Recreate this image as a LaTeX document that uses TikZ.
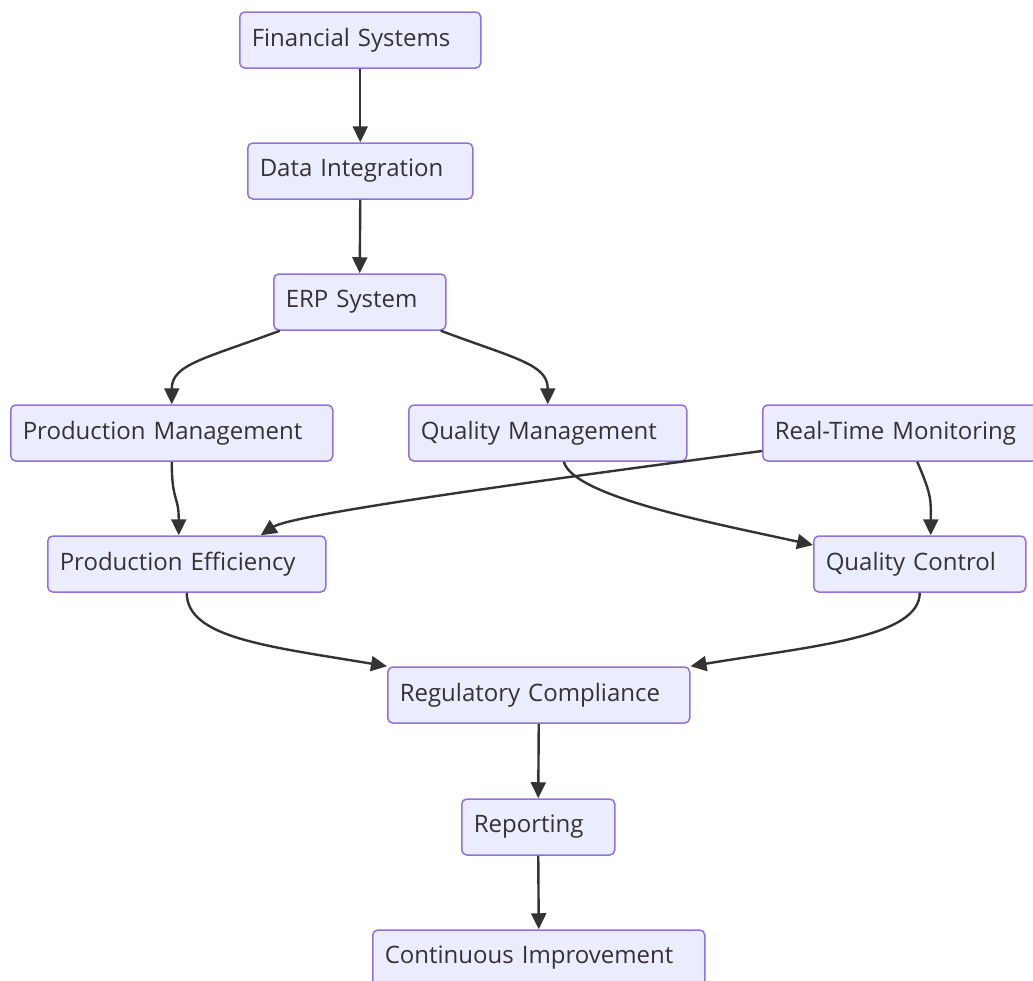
\documentclass[tikz,border=0pt]{standalone}
\usepackage{fontspec}
\setmainfont{Open Sans}
\usetikzlibrary{arrows.meta}
\definecolor{boxfill}{HTML}{ECECFF}
\definecolor{boxline}{HTML}{9370DB}
\definecolor{ink}{HTML}{333333}
\tikzset{
  box/.style={draw=boxline, fill=boxfill, line width=1.5pt, rounded corners=5pt,
    minimum height=56pt, inner xsep=12pt, align=left, text=ink,
    font=\fontsize{24}{28}\selectfont, anchor=west},
  flow/.style={draw=ink, line width=2.4pt, -{Triangle[length=16pt,width=15pt]}}
}
\begin{document}
\begin{tikzpicture}[x=1pt, y=-1pt]
  \useasboundingbox (0,0) rectangle (1033,980);
  \foreach \n/\x/\y/\w/\t in {fin/239/40/241/Financial Systems, data/247/171/225/Data Integration,
      erp/273/302/172/ERP System, pm/10/433/322/Production Management, qm/408/433/278/Quality Management,
      rtm/762/433/283/Real-Time Monitoring, pe/47/564/278/Production Efficiency, qc/813/564/212/Quality Control,
      rc/387/695/302/Regulatory Compliance, rep/461/827/153/Reporting, ci/372/958/332/Continuous Improvement} {
    \pgfmathsetmacro\tw{\w-24}
    \node[box, text width=\tw pt] (\n) at (\x,\y) {\raisebox{-9pt}{\t}};
  }
  \foreach \a/\b in {fin/data, data/erp, rc/rep, rep/ci}
    \draw[flow] (\a.south) -- (\b.north);
  % curved links
  \draw[flow] ([xshift=-80pt]erp.south) .. controls +(-75,28) and +(0,-40) .. (pm.north);
  \draw[flow] ([xshift=81pt]erp.south) .. controls +(75,28) and +(0,-40) .. (qm.north);
  \draw[flow] (pm.south) .. controls +(0,40) and +(0,-40) .. ([xshift=-8pt]pe.north);
  \draw[flow] ([yshift=-18pt]rtm.west) .. controls +(-250,33) and +(30,-20) .. ([xshift=74pt]pe.north);
  \draw[flow] ([xshift=16pt]qm.south) .. controls +(10,35) and +(-100,-22) .. ([yshift=19pt]qc.west);
  \draw[flow] ([xshift=13pt]rtm.south) .. controls +(15,35) and +(0,-35) .. ([xshift=11pt]qc.north);
  \draw[flow] (pe.south) .. controls +(0,45) and +(-120,-20) .. (rc.north west);
  \draw[flow] (qc.south) .. controls +(0,45) and +(120,-20) .. (rc.north east);
\end{tikzpicture}
\end{document}
